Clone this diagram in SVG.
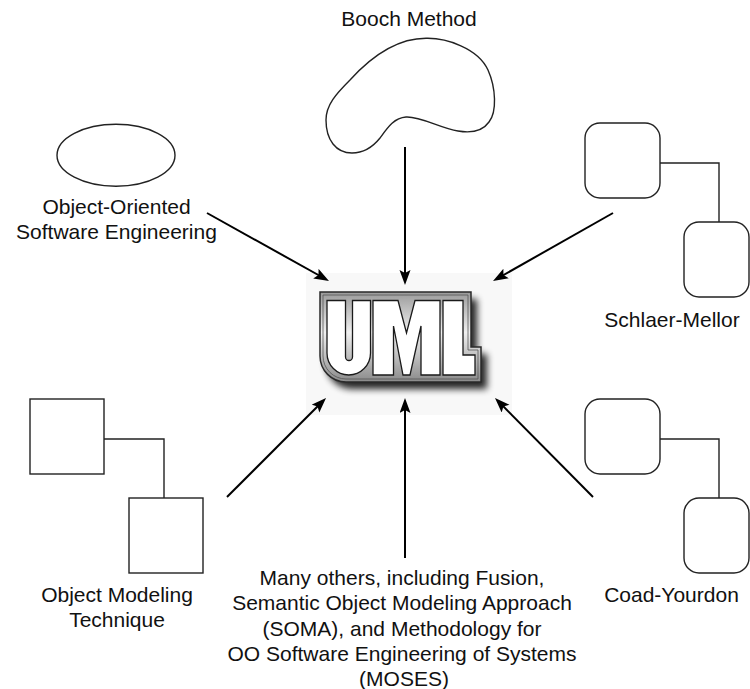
<svg xmlns="http://www.w3.org/2000/svg" width="750" height="689" viewBox="0 0 750 689">
<style>
  text { font-family: "Liberation Sans", Arial, sans-serif; font-size: 21px; fill: #111; text-anchor: middle; }
  .shape { fill: #fff; stroke: #222; stroke-width: 1.4; }
  .link { fill: none; stroke: #222; stroke-width: 1.4; }
  .arrow { fill: none; stroke: #000; stroke-width: 2; marker-end: url(#head); }
  .letter { fill: #fff; stroke: #1a1a1a; stroke-width: 1.3; stroke-linejoin: miter; }
</style>
<defs>
  <marker id="head" markerUnits="userSpaceOnUse" markerWidth="16" markerHeight="12" refX="11" refY="5.5" orient="auto">
    <path d="M0,0 L15,5.5 L0,11 L3,5.5 Z" fill="#000"/>
  </marker>
  <linearGradient id="metal" x1="0" y1="0" x2="0" y2="1">
    <stop offset="0" stop-color="#9a9a9a"/>
    <stop offset="0.45" stop-color="#f0f0f0"/>
    <stop offset="1" stop-color="#8a8a8a"/>
  </linearGradient>
  <filter id="blur" x="-20%" y="-20%" width="140%" height="140%">
    <feGaussianBlur stdDeviation="3.5"/>
  </filter>
</defs>
<rect width="750" height="689" fill="#fff"/>

<g id="uml">
  <rect x="306" y="273" width="206" height="142" fill="#f8f8f8"/>
  <path d="M320,292 H471 V347 H481 V382 H346 A26,26 0 0 1 320,356 Z" transform="translate(6,7)" fill="#000" opacity="0.85" filter="url(#blur)"/>
  <path d="M320,292 H471 V347 H481 V382 H346 A26,26 0 0 1 320,356 Z" fill="url(#metal)" stroke="#2a2a2a" stroke-width="1.5"/>
  <path d="M323,295 H468 V350 H478 V379 H346 A23,23 0 0 1 323,356 Z" fill="none" stroke="#555" stroke-width="0.8"/>
  <path class="letter" d="M327,300.5 H345.5 V357 A3.5,3.5 0 0 0 352.5,357 V300.5 H370.5 V353 A21.75,22 0 0 1 327,353 Z"/>
  <path class="letter" d="M373,300.5 H398 L406.5,333 L415,300.5 H440 V375 H421 V326 L410,375 H403 L393.5,326 V375 H373 Z"/>
  <path class="letter" d="M443,300.5 H463 V355 H475 V375 H443 Z"/>
</g>

<g id="booch">
  <path class="shape" d="M426.7,38.3 C446,38 478,48 488,70 C496,88 497,112 489,122 C482,132 470,133 458,131 C440,128 420,116 406,117 C394,118 388,127 380,138 C372,148 362,153 352,153 C336,153 326,140 326,120 C326,105 336,94 350,80 C370,58 395,38 426.7,38.3 Z"/>
  <text x="409" y="26">Booch Method</text>
</g>

<g id="oose">
  <ellipse class="shape" cx="116" cy="155.3" rx="59" ry="31"/>
  <text x="116.5" y="214">Object-Oriented</text>
  <text x="116.5" y="239">Software Engineering</text>
</g>

<g id="schlaer-mellor">
  <rect class="shape" x="585" y="123" width="75" height="75" rx="15"/>
  <path class="link" d="M660,163 H719 V222"/>
  <rect class="shape" x="684" y="222" width="65" height="75" rx="15"/>
  <text x="672" y="327">Schlaer-Mellor</text>
</g>

<g id="omt">
  <rect class="shape" x="30" y="399" width="74" height="75"/>
  <path class="link" d="M104,439 H164 V498"/>
  <rect class="shape" x="129" y="498" width="74" height="75"/>
  <text x="117" y="602">Object Modeling</text>
  <text x="117" y="627">Technique</text>
</g>

<g id="coad-yourdon">
  <rect class="shape" x="585" y="399" width="75" height="75" rx="15"/>
  <path class="link" d="M660,439 H719 V498"/>
  <rect class="shape" x="684" y="498" width="65" height="75" rx="15"/>
  <text x="671.5" y="602">Coad-Yourdon</text>
</g>

<g id="others">
  <text x="402" y="585">Many others, including Fusion,</text>
  <text x="402" y="610">Semantic Object Modeling Approach</text>
  <text x="402" y="635.5">(SOMA), and Methodology for</text>
  <text x="402" y="661">OO Software Engineering of Systems</text>
  <text x="404" y="686">(MOSES)</text>
</g>

<g id="connectors">
  <line class="arrow" x1="405" y1="147" x2="405" y2="281"/>
  <line class="arrow" x1="207" y1="213" x2="325.5" y2="279"/>
  <line class="arrow" x1="613" y1="213" x2="496.5" y2="279"/>
  <line class="arrow" x1="227" y1="497" x2="323.2" y2="400.8"/>
  <line class="arrow" x1="405" y1="558" x2="405" y2="402"/>
  <line class="arrow" x1="593" y1="497" x2="497.8" y2="400.8"/>
</g>
</svg>
